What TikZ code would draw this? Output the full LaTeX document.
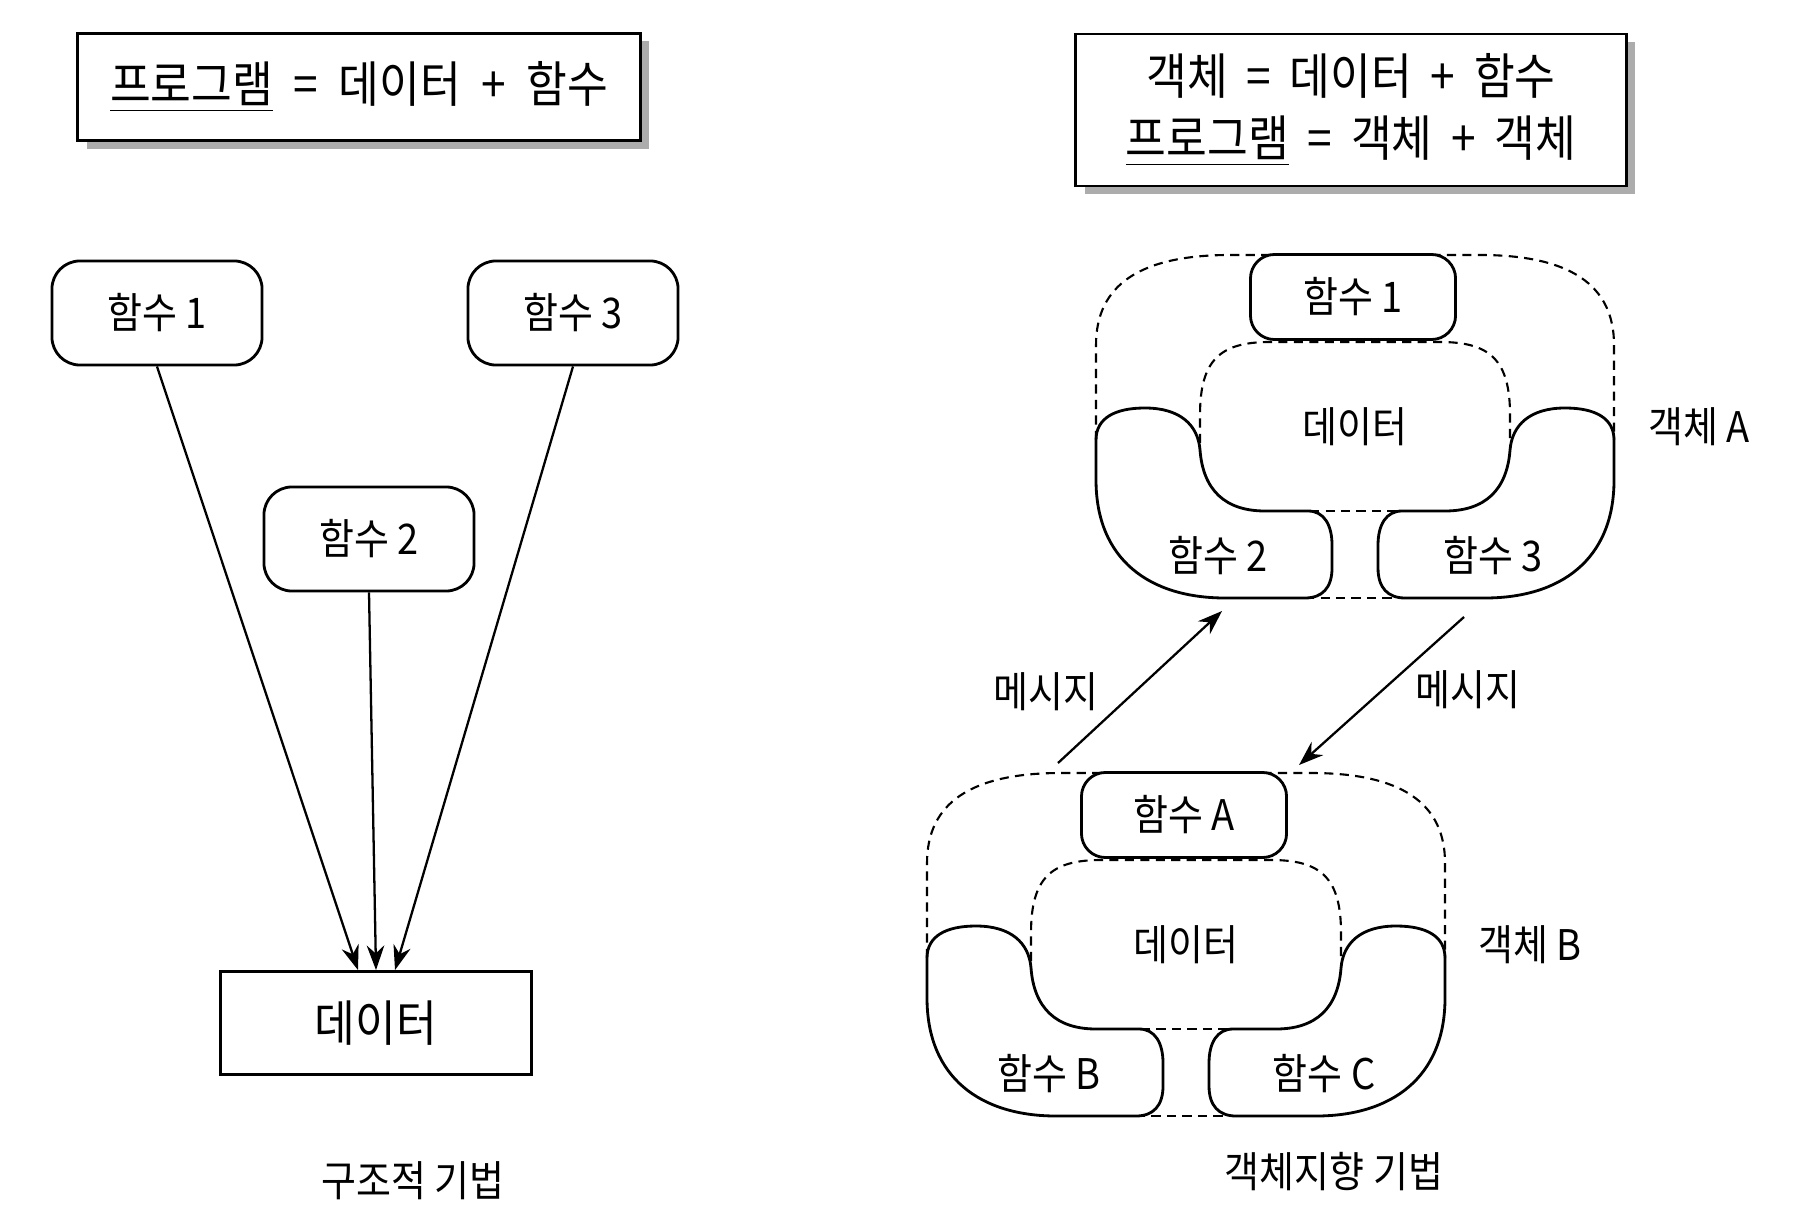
\documentclass[tikz,border=0pt]{standalone}
\usepackage{fontspec}
\setmainfont{Noto Sans CJK KR}[FakeStretch=0.9]
\usetikzlibrary{arrows.meta,shadows}

\newcommand{\opsp}{\hspace{2.5pt}}

\tikzset{
  func/.style={draw, line width=0.8pt, rounded corners=0.28cm, minimum width=2.1cm, minimum height=1.04cm, font=\fontsize{12pt}{14pt}\selectfont},
  ofunc/.style={func, fill=white, rounded corners=0.24cm, minimum width=2.05cm, minimum height=0.85cm},
  lbl/.style={font=\fontsize{12pt}{14pt}\selectfont},
  titlebox/.style={draw, line width=0.8pt, fill=white, align=center,
    drop shadow={shadow xshift=0.09cm, shadow yshift=-0.08cm, fill=gray!65, opacity=1},
    font=\fontsize{14pt}{17.6pt}\selectfont},
  part/.style={line width=0.8pt},
  region/.style={line width=0.6pt, dash pattern=on 2.6pt off 1.8pt},
  msg/.style={-{Stealth[length=7pt,width=5pt]}, line width=0.65pt},
}

% one object: #1 prefix, #2/#3 shift, #4 top function, #5 left function, #6 right function, #7 name
\newcommand{\objgroup}[7]{%
\begin{scope}[shift={(#2,#3)}]
  \draw[region] (1096,440) -- (1096,345) .. controls (1096,285) and (1140,255) .. (1230,255)
    -- (1480,255) .. controls (1570,255) and (1614,285) .. (1614,345) -- (1614,440);
  \draw[region] (1200,443) -- (1200,415) .. controls (1200,360) and (1220,342) .. (1270,342)
    -- (1440,342) .. controls (1490,342) and (1510,360) .. (1510,415) -- (1510,443);
  \draw[region] (1310,511) -- (1400,511) (1305,598) -- (1405,598);
  % functions around the data
  \draw[part] (1096,440) .. controls (1096,418) and (1115,408) .. (1145,408)
    .. controls (1180,408) and (1198,425) .. (1200,450)
    .. controls (1203,490) and (1225,511) .. (1265,511) -- (1308,511)
    .. controls (1324,511) and (1332,525) .. (1332,545) -- (1332,568)
    .. controls (1332,588) and (1322,598) .. (1305,598) -- (1225,598)
    .. controls (1150,598) and (1096,560) .. (1096,480) -- cycle;
  \draw[part] (1614,440) .. controls (1614,418) and (1595,408) .. (1565,408)
    .. controls (1530,408) and (1512,425) .. (1510,450)
    .. controls (1507,490) and (1485,511) .. (1445,511) -- (1402,511)
    .. controls (1386,511) and (1378,525) .. (1378,545) -- (1378,568)
    .. controls (1378,588) and (1388,598) .. (1405,598) -- (1485,598)
    .. controls (1560,598) and (1614,560) .. (1614,480) -- cycle;
  \node[ofunc] (#1top) at (1353,297) {#4};
  \node[lbl] (#1data) at (1355,427) {데이터};
  \node[lbl] (#1left) at (1218,556) {#5};
  \node[lbl] (#1right) at (1493,556) {#6};
  \node[lbl] (#1name) at (1699,427) {#7};
\end{scope}}

\begin{document}
\begin{tikzpicture}[x=0.01cm, y=-0.01cm]
\fill[white] (0,0) rectangle (1798,1231);
\useasboundingbox (0,0) rectangle (1798,1231);

% structured
\node[titlebox, minimum width=5.62cm, minimum height=1.07cm] (titleL) at (359,87)
  {\underline{프로그램}\hspace{3pt} = \hspace{3pt}데이터\hspace{3pt} + \hspace{3pt}함수};
\node[func] (f1) at (157,313) {함수 1};
\node[func] (f2) at (369,539) {함수 2};
\node[func] (f3) at (573,313) {함수 3};
\node[draw, line width=0.8pt, minimum width=3.11cm, minimum height=1.03cm, font=\fontsize{14pt}{16pt}\selectfont] (data) at (376,1023) {데이터};
\draw[msg] (f1.south) -- ([xshift=-0.18cm]data.north);
\draw[msg] (f2.south) -- (data.north);
\draw[msg] (f3.south) -- ([xshift=0.19cm]data.north);
\node[lbl] (capL) at (413,1181) {구조적 기법};

% object oriented
\node[titlebox, minimum width=5.5cm, minimum height=1.52cm] (titleR) at (1351,110)
  {객체\opsp{} = \opsp{}데이터\opsp{} + \opsp{}함수\\\underline{프로그램}\opsp{} = \opsp{}객체\opsp{} + \opsp{}객체};
\objgroup{A}{0}{0}{함수 1}{함수 2}{함수 3}{객체 A}
\objgroup{B}{-169}{518}{함수 A}{함수 B}{함수 C}{객체 B}

\coordinate (upfrom) at (1058,763);
\coordinate (upto) at (1222,611);
\coordinate (downfrom) at (1464,617);
\coordinate (downto) at (1299,765);
\draw[msg] (upfrom) -- (upto);
\draw[msg] (downfrom) -- (downto);
\node[lbl] (msgL) at (1046,692) {메시지};
\node[lbl] (msgR) at (1468,690) {메시지};
\node[lbl] (capR) at (1334,1172) {객체지향 기법};
\end{tikzpicture}
\end{document}
